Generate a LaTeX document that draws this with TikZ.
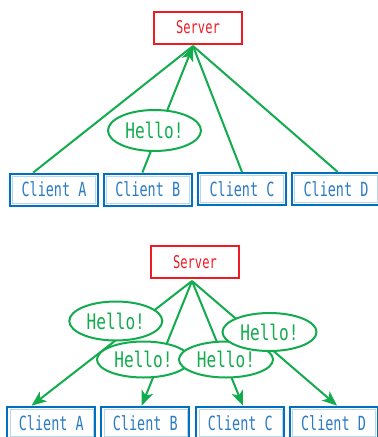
\documentclass[tikz,border=0pt]{standalone}
\usepackage{fontspec}
\usetikzlibrary{arrows.meta,shapes.geometric,calc}
\newfontfamily\dmonoN[FakeStretch=0.69]{DejaVu Sans Mono}
\newfontfamily\dmonoW[FakeStretch=0.75]{DejaVu Sans Mono}
\definecolor{cred}{RGB}{237,28,36}
\definecolor{cgreen}{RGB}{18,172,78}
\definecolor{cblue}{RGB}{0,112,192}
\definecolor{ctext}{RGB}{43,123,196}
\begin{document}
\begin{tikzpicture}[x=1pt,y=-1pt,
  srv/.style={draw=cred, line width=2pt, minimum width=88pt, minimum height=32pt, inner sep=0pt,
    text=cred, font=\dmonoN\fontsize{17.5}{17.5}\selectfont},
  cli/.style={draw=cblue, line width=2pt, minimum width=88pt, minimum height=32pt, inner sep=0pt,
    text=ctext, font=\dmonoN\fontsize{19.5}{19.5}\selectfont,
    path picture={\draw[cblue!28, line width=0.6pt]
      ([shift={(2.5pt,-2.5pt)}]path picture bounding box.north west) rectangle
      ([shift={(-2.5pt,2.5pt)}]path picture bounding box.south east);}},
  hello/.style={ellipse, draw=cgreen, fill=white, line width=2pt, inner sep=0pt,
    text=cgreen, font=\dmonoW\fontsize{21.5}{21.5}\selectfont},
  link/.style={draw=cgreen, line width=2pt},
  tip/.style={-{Stealth[length=15pt,width=12pt,inset=4pt]}}
]
\useasboundingbox (0,0) rectangle (378,437);
\fill[white] (0,0) rectangle (378,437);

% ---------- top diagram ----------
\node[srv] (S1) at (198,27.5) {Server};
\node[cli] (A1) at (54,189.5) {Client A};
\node[cli] (B1) at (147.75,189.5) {Client B};
\node[cli] (C1) at (242,189) {Client C};
\node[cli] (D1) at (336,189) {Client D};
\coordinate (t1) at (193,46);
\draw[link] ($(A1.north west)!0.27!(A1.north east)$) -- (t1);
\draw[link] ($(C1.north west)!0.5!(C1.north east)$) -- (t1);
\draw[link] ($(D1.north west)!0.52!(D1.north east)$) -- (t1);
\draw[link,tip] ($(B1.north west)!0.44!(B1.north east)$) -- (t1);
\node[hello, minimum width=93pt, minimum height=41pt] (H0) at (154.5,130.5) {Hello!};

% ---------- bottom diagram ----------
\node[srv] (S2) at (195,262) {Server};
\node[cli] (A2) at (51.3,422.7) {Client A};
\node[cli] (B2) at (145.3,422.7) {Client B};
\node[cli] (C2) at (240.3,422.7) {Client C};
\node[cli] (D2) at (333.5,422.7) {Client D};
\coordinate (t2) at (192,281);
\draw[link,tip] (t2) -- ($(A2.north west)!0.28!(A2.north east)$);
\draw[link,tip] (t2) -- ($(B2.north west)!0.46!(B2.north east)$);
\draw[link,tip] (t2) -- ($(C2.north west)!0.53!(C2.north east)$);
\draw[link,tip] (t2) -- ($(D2.north west)!0.54!(D2.north east)$);
\node[hello, minimum width=93pt, minimum height=39pt] (H1) at (115.8,321) {Hello!};
\node[hello, minimum width=93pt, minimum height=36pt] (H2) at (143.5,359.5) {Hello!};
\node[hello, minimum width=94pt, minimum height=36pt] (H3) at (226,359.5) {Hello!};
\node[hello, minimum width=94pt, minimum height=38pt] (H4) at (269.5,332) {Hello!};
\end{tikzpicture}
\end{document}
